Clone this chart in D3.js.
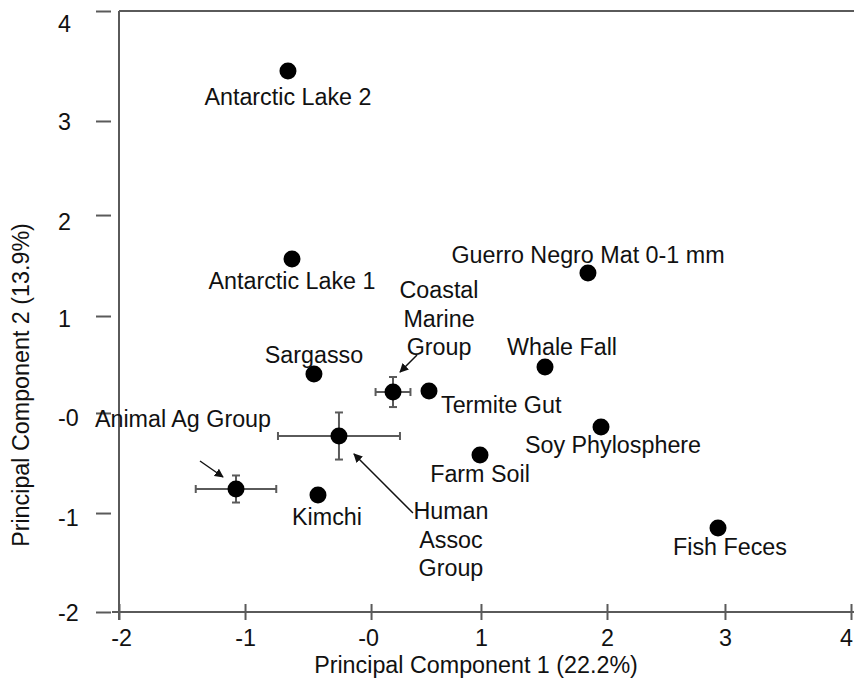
<!DOCTYPE html>
<html><head><meta charset="utf-8">
<script src="https://cdn.jsdelivr.net/npm/d3@7/dist/d3.min.js"></script>
<style>
html,body{margin:0;padding:0;background:#fff;}
svg{display:block;font-family:"Liberation Sans",Arial,Helvetica,sans-serif;}
</style></head>
<body>
<svg id="chart" width="854" height="689"></svg>
<script>
// ---- data ----
const sampleNames = ["Antarctic Lake 2","Antarctic Lake 1","Guerro Negro Mat 0-1 mm","Whale Fall","Coastal\nMarine\nGroup","Termite Gut","Soy Phylosphere","Fish Feces","Sargasso","Human\nAssoc\nGroup","Animal Ag Group","Kimchi","Farm Soil"];
const pc1 = [-0.615,-0.582,1.844,1.492,0.246,0.541,1.951,2.910,-0.402,-0.197,-1.041,-0.369,0.959];
const pc2 = [3.401,1.524,1.384,0.446,0.196,0.206,-0.153,-1.161,0.376,-0.243,-0.772,-0.832,-0.433];
const pc1Err = [0,0,0,0,0.143,0,0,0,0,0.50,0.33,0,0];
const pc2Err = [0,0,0,0,0.15,0,0,0,0,0.235,0.135,0,0];
const xTickValues = [-2,-0.967,0.066,0.967,2.0,2.967,4.0];
const xTickLabels = ["-2","-1","-0","1","2","3","4"];
const yTickValues = [-2,-1.012,-0.013,0.955,1.963,2.902,4.0];
const yTickLabels = ["-2","-1","-0","1","2","3","4"];
const xTitle = "Principal Component 1 (22.2%)";
const yTitle = "Principal Component 2 (13.9%)";

// ---- layout (pixel offsets for labels / arrows, not data) ----
const labelLayout = [
  {anchor:"middle",dx:0,dy:34},
  {anchor:"middle",dx:0,dy:30},
  {anchor:"middle",dx:0,dy:-10},
  {anchor:"middle",dx:17,dy:-12},
  {anchor:"middle",dx:46,dy:-94,arrow:[24,-37,7,-20]},
  {anchor:"start",dx:12,dy:22},
  {anchor:"middle",dx:12,dy:26},
  {anchor:"middle",dx:12,dy:27},
  {anchor:"middle",dx:0,dy:-11},
  {anchor:"middle",dx:112,dy:83,arrow:[74,77,15,18]},
  {anchor:"middle",dx:-53,dy:-62,arrow:[-36,-28,-13,-12]},
  {anchor:"middle",dx:9,dy:30},
  {anchor:"middle",dx:0,dy:27}
];
const yLabelShift = [0,4,4,2,6,0.5,12];
const xLabelShift = [2,0,-3,0,0,0,-5];

const W = 854, H = 689;
const mLeft = 119, mRight = 851, mTop = 11, mBottom = 612;
const svg = d3.select("#chart");
const axisColor = "#5a5a5a";
const fontSize = 23.3;

const x = d3.scaleLinear().domain([-2,4]).range([mLeft,mRight]);
const y = d3.scaleLinear().domain([-2,4]).range([mBottom,mTop]);

// frame lines
svg.append("line").attr("x1",mLeft).attr("x2",W).attr("y1",mTop).attr("y2",mTop)
  .attr("stroke",axisColor).attr("stroke-width",2);
svg.append("line").attr("x1",mLeft).attr("x2",mLeft).attr("y1",mTop).attr("y2",mBottom+8)
  .attr("stroke",axisColor).attr("stroke-width",2);
svg.append("line").attr("x1",mLeft-7).attr("x2",W).attr("y1",mBottom).attr("y2",mBottom)
  .attr("stroke",axisColor).attr("stroke-width",2);

// x axis
const gx = svg.append("g").attr("transform",`translate(0,${mBottom})`)
  .call(d3.axisBottom(x).tickValues(xTickValues).tickFormat((d,i)=>xTickLabels[i]).tickSize(8).tickPadding(0));
gx.select(".domain").remove();
gx.selectAll(".tick line").attr("y1",-8).attr("y2",8).attr("stroke",axisColor).attr("stroke-width",2);
gx.selectAll(".tick text").attr("y",34).attr("dy",0).attr("x",(d,i)=>xLabelShift[i]).attr("fill","#111")
  .style("font-size",fontSize+"px").style("font-family","Liberation Sans, Arial, sans-serif");

// y axis
const gy = svg.append("g").attr("transform",`translate(${mLeft},0)`)
  .call(d3.axisLeft(y).tickValues(yTickValues).tickFormat((d,i)=>yTickLabels[i]).tickSize(8));
gy.select(".domain").remove();
gy.selectAll(".tick line").attr("x1",-8).attr("x2",-23).attr("stroke",axisColor).attr("stroke-width",2);
gy.selectAll(".tick text").attr("x",58-mLeft).attr("text-anchor","start").attr("dy","0.35em")
  .attr("y",(d,i)=>yLabelShift[i]).attr("fill","#111")
  .style("font-size",fontSize+"px").style("font-family","Liberation Sans, Arial, sans-serif");

// axis titles
svg.append("text").attr("x",476).attr("y",673).attr("text-anchor","middle")
  .style("font-size",fontSize+"px").attr("fill","#111").text(xTitle);
svg.append("text").attr("transform","translate(29,385) rotate(-90)").attr("text-anchor","middle")
  .style("font-size",fontSize+"px").attr("fill","#111").text(yTitle);

// data rows
const rows = sampleNames.map((n,i)=>({name:n,x:pc1[i],y:pc2[i],ex:pc1Err[i],ey:pc2Err[i],lay:labelLayout[i]}));

// error bars
const eb = svg.append("g").attr("stroke",axisColor).attr("stroke-width",2);
rows.filter(d=>d.ex>0||d.ey>0).forEach(d=>{
  const cx=x(d.x), cy=y(d.y), cap=4;
  const x0=x(d.x-d.ex), x1=x(d.x+d.ex), y0=y(d.y-d.ey), y1=y(d.y+d.ey);
  eb.append("line").attr("x1",x0).attr("x2",x1).attr("y1",cy).attr("y2",cy);
  eb.append("line").attr("x1",x0).attr("x2",x0).attr("y1",cy-cap).attr("y2",cy+cap);
  eb.append("line").attr("x1",x1).attr("x2",x1).attr("y1",cy-cap).attr("y2",cy+cap);
  eb.append("line").attr("x1",cx).attr("x2",cx).attr("y1",y0).attr("y2",y1);
  eb.append("line").attr("x1",cx-cap).attr("x2",cx+cap).attr("y1",y0).attr("y2",y0);
  eb.append("line").attr("x1",cx-cap).attr("x2",cx+cap).attr("y1",y1).attr("y2",y1);
});

// points
svg.append("g").selectAll("circle").data(rows).join("circle")
  .attr("cx",d=>x(d.x)).attr("cy",d=>y(d.y)).attr("r",8.5).attr("fill","#000");

// arrows
svg.append("defs").append("marker").attr("id","ah").attr("viewBox","0 0 10 10")
  .attr("refX",9).attr("refY",5).attr("markerWidth",9).attr("markerHeight",9)
  .attr("markerUnits","userSpaceOnUse").attr("orient","auto")
  .append("path").attr("d","M0,0 L10,5 L0,10 Z").attr("fill","#111");
rows.filter(d=>d.lay.arrow).forEach(d=>{
  const a=d.lay.arrow, cx=x(d.x), cy=y(d.y);
  svg.append("line").attr("x1",cx+a[0]).attr("y1",cy+a[1]).attr("x2",cx+a[2]).attr("y2",cy+a[3])
    .attr("stroke","#111").attr("stroke-width",1.5).attr("marker-end","url(#ah)");
});

// labels
const lg = svg.append("g").style("font-size",fontSize+"px").attr("fill","#111");
rows.forEach(d=>{
  const lines = d.name.split("\n");
  const t = lg.append("text").attr("text-anchor",d.lay.anchor)
    .attr("x",x(d.x)+d.lay.dx).attr("y",y(d.y)+d.lay.dy);
  lines.forEach((ln,k)=>{
    t.append("tspan").attr("x",x(d.x)+d.lay.dx).attr("dy",k===0?0:28.5).text(ln);
  });
});
</script>
</body></html>
